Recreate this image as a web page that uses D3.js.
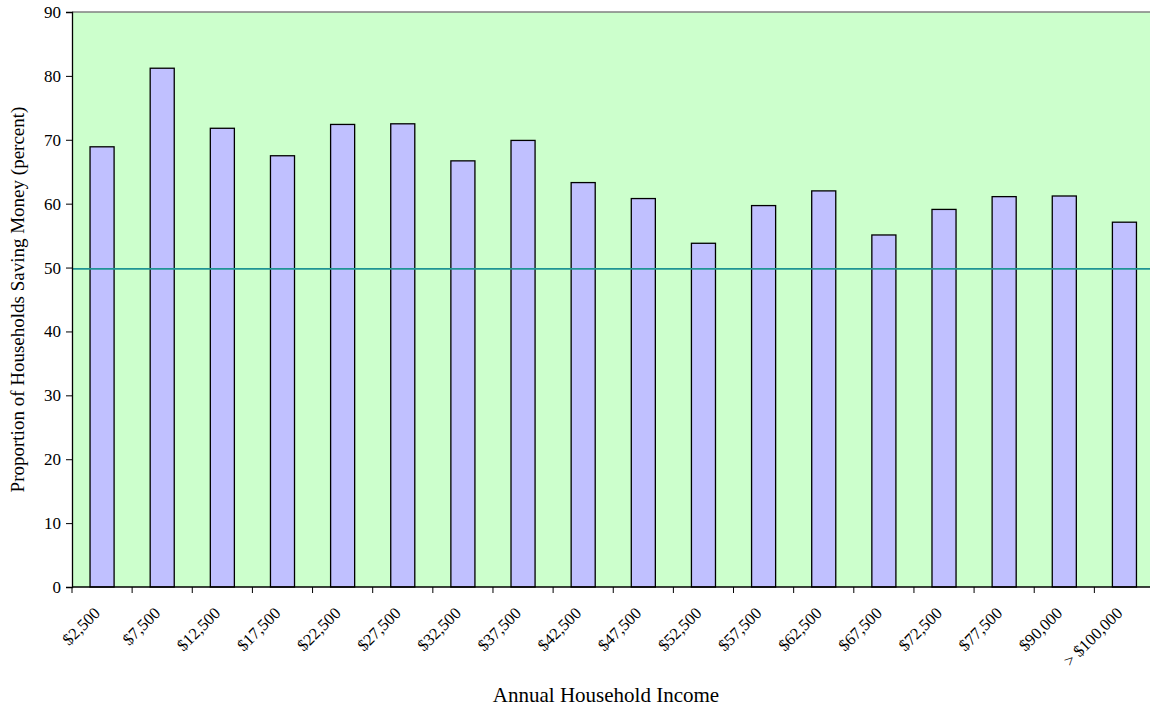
<!DOCTYPE html>
<html>
<head>
<meta charset="utf-8">
<script src="https://cdn.jsdelivr.net/npm/d3@7"></script>
<style>
  html, body { margin: 0; padding: 0; background: #ffffff; }
  svg { display: block; }
  text { font-family: "Liberation Serif", "Times New Roman", serif; fill: #000; }
</style>
</head>
<body>
<svg id="chart" width="1150" height="711"></svg>
<script>
// Income brackets and share of households saving money (percent)
const incomeBrackets = ["$2,500", "$7,500", "$12,500", "$17,500", "$22,500", "$27,500",
  "$32,500", "$37,500", "$42,500", "$47,500", "$52,500", "$57,500", "$62,500",
  "$67,500", "$72,500", "$77,500", "$90,000", "> $100,000"];
const savingShare = [68.9, 81.2, 71.8, 67.5, 72.4, 72.5, 66.7, 69.9, 63.3, 60.8,
  53.8, 59.7, 62.0, 55.1, 59.1, 61.1, 61.2, 57.1];
const yTicks = [0, 10, 20, 30, 40, 50, 60, 70, 80, 90];
const referenceLevel = 49.8;

const svg = d3.select("#chart");
const plot = { left: 72, top: 12, right: 1154.5, bottom: 587 };

const x = d3.scaleBand()
  .domain(incomeBrackets)
  .range([plot.left, plot.right])
  .paddingInner(0.6)
  .paddingOuter(0.3);

const y = d3.scaleLinear().domain([0, 90]).range([plot.bottom, plot.top]);

// plot background
svg.append("rect")
  .attr("x", plot.left).attr("y", plot.top)
  .attr("width", plot.right - plot.left).attr("height", plot.bottom - plot.top)
  .attr("fill", "#ccffcc");

// top border
svg.append("line")
  .attr("x1", plot.left).attr("x2", plot.right)
  .attr("y1", plot.top).attr("y2", plot.top)
  .attr("stroke", "#808080").attr("stroke-width", 1.5);

// bars
svg.append("g").selectAll("rect")
  .data(savingShare)
  .join("rect")
  .attr("x", (d, i) => x(incomeBrackets[i]))
  .attr("y", d => y(d))
  .attr("width", x.bandwidth())
  .attr("height", d => y(0) - y(d))
  .attr("fill", "#c0c0ff")
  .attr("stroke", "#000")
  .attr("stroke-width", 1.3);

// reference line
svg.append("line")
  .attr("x1", plot.left).attr("x2", plot.right)
  .attr("y1", y(referenceLevel)).attr("y2", y(referenceLevel))
  .attr("stroke", "#1f9494").attr("stroke-width", 1.6);

// y axis
const yAxis = svg.append("g")
  .attr("transform", `translate(${plot.left},0)`)
  .call(d3.axisLeft(y).tickValues(yTicks).tickSize(6).tickPadding(5));
yAxis.select(".domain").attr("stroke", "#000").attr("stroke-width", 1.3);
yAxis.selectAll(".tick line").attr("stroke", "#000");
yAxis.selectAll(".tick text")
  .style("font-family", "'Liberation Serif', serif")
  .style("font-size", "17px");

// x axis: ticks at category boundaries
const xEdge = d3.scaleLinear().domain([0, incomeBrackets.length]).range([plot.left, plot.right]);
const xAxis = svg.append("g")
  .attr("transform", `translate(0,${plot.bottom})`);
xAxis.append("line")
  .attr("x1", plot.left).attr("x2", plot.right)
  .attr("stroke", "#000").attr("stroke-width", 1.3);
xAxis.selectAll("line.tick")
  .data(d3.range(incomeBrackets.length + 1))
  .join("line")
  .attr("class", "tick")
  .attr("x1", d => xEdge(d)).attr("x2", d => xEdge(d))
  .attr("y1", 0).attr("y2", 6)
  .attr("stroke", "#000");

xAxis.selectAll("text")
  .data(incomeBrackets)
  .join("text")
  .attr("transform", d => `translate(${x(d) + x.bandwidth() / 2 - 5},${23}) rotate(-45)`)
  .attr("text-anchor", "end")
  .attr("dy", "0.35em")
  .style("font-size", "16.5px")
  .text(d => d);

// axis titles
svg.append("text")
  .attr("transform", `translate(24,${(plot.top + plot.bottom) / 2}) rotate(-90)`)
  .attr("text-anchor", "middle")
  .style("font-size", "19px")
  .text("Proportion of Households Saving Money (percent)");

svg.append("text")
  .attr("x", 606).attr("y", 702)
  .attr("text-anchor", "middle")
  .style("font-size", "21px")
  .text("Annual Household Income");
</script>
</body>
</html>
